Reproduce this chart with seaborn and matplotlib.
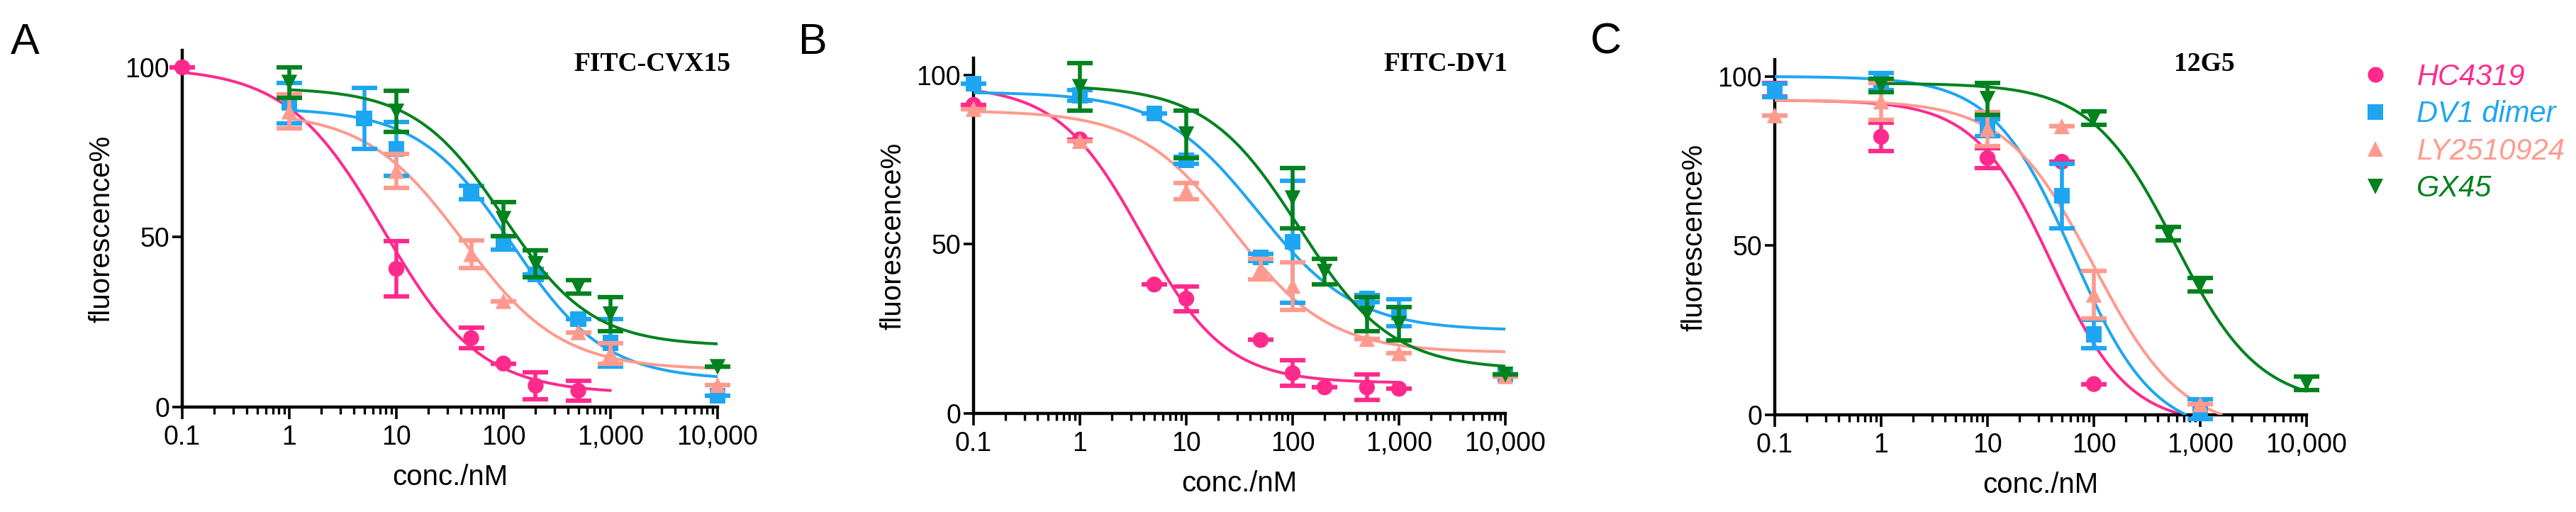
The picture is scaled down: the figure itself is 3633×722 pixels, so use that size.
import numpy as np
import matplotlib
matplotlib.use('Agg')
import matplotlib.pyplot as plt
import matplotlib.ticker as mticker
from matplotlib.lines import Line2D
import seaborn as sns

# Compounds / styles
compounds = ['HC4319', 'DV1 dimer', 'LY2510924', 'GX45']
colors = ['#FF2A8C', '#1EA6F2', '#FF9A8E', '#00821E']
markers = ['o', 's', '^', 'v']
draw_order = [2, 0, 1, 3]  # salmon at bottom, green on top

# Panel A: FITC-CVX15 (conc nM, mean %, error)
a_conc = [[0.1, 10, 50, 100, 200, 500],
          [1, 5, 10, 50, 100, 200, 500, 1000, 10000],
          [1, 10, 50, 100, 500, 1000, 10000],
          [1, 10, 100, 200, 500, 1000, 10000]]
a_mean = [[100, 40.7, 20.3, 12.8, 6.3, 4.8],
          [89.5, 85, 76, 63.2, 48.4, 39, 25.9, 18.9, 3.4],
          [87, 69.5, 45, 31.2, 22, 15.7, 6.5],
          [95.5, 87, 55.4, 42.1, 35.4, 27.3, 11.8]]
a_err = [[0, 8.2, 3, 0, 4, 3],
         [6, 9, 8, 2, 2, 0, 0, 7, 0],
         [5, 5, 4, 0, 0, 3, 0],
         [4.5, 6, 5, 4, 2, 5, 0]]
# fitted curves: top, bottom, IC50, hill, x start, x end
a_fit = [[100, 4, 7.6, 0.96, 0.1, 1000],
         [88, 8, 120, 1.0, 1, 10000],
         [87, 11, 42, 0.95, 1, 10000],
         [94, 18, 100, 1.05, 1, 10000]]

# Panel B: FITC-DV1
b_conc = [[0.1, 1, 5, 10, 50, 100, 200, 500, 1000],
          [0.1, 1, 5, 10, 50, 100, 500, 1000, 10000],
          [0.1, 1, 10, 50, 100, 500, 1000, 10000],
          [1, 10, 100, 200, 500, 1000, 10000]]
b_mean = [[91.2, 81, 38.1, 33.9, 21.7, 11.9, 7.7, 7.7, 7.3],
          [97.5, 94, 88.7, 74.8, 46.1, 50.7, 33.9, 29.7, 11.5],
          [90, 80.5, 65.7, 42.6, 37.7, 22, 17.8, 11],
          [96.5, 82.5, 63.6, 41.9, 29.4, 26.5, 11.5]]
b_err = [[0, 0, 0, 3.7, 0, 3.8, 0, 3.8, 0],
         [0, 1.5, 0, 1, 1, 18, 1, 4, 0],
         [0, 0, 2.5, 3, 7, 0, 0, 0],
         [7, 7, 9, 3.8, 5, 5, 0]]
b_fit = [[97, 9, 3.8, 1.1, 0.1, 1000],
         [95, 24.5, 47, 0.95, 0.1, 10000],
         [89.5, 18, 28, 0.97, 0.1, 10000],
         [97, 13, 115, 1.0, 1, 10000]]

# Panel C: 12G5
c_conc = [[0.1, 1, 10, 50, 100],
          [0.1, 1, 10, 50, 100, 1000],
          [0.1, 1, 10, 50, 100, 1000],
          [1, 10, 100, 500, 1000, 10000]]
c_mean = [[96, 82.2, 75.9, 74.8, 9.1],
          [95.8, 98.5, 84.9, 64.7, 23.8, 1.7],
          [88.5, 92.6, 84.5, 85.3, 35.5, 3.1],
          [97.3, 93.4, 87.7, 53.5, 38.5, 9.4]]
c_err = [[2, 4.2, 3, 0, 0],
         [2, 2.5, 2.5, 9.5, 4.2, 3],
         [0, 5.5, 5, 0, 7, 0],
         [2, 4.7, 2, 2, 2, 2]]
c_fit = [[93, -3, 40, 1.2, 0.1, 10000],
         [100, -6, 64, 1.15, 0.1, 10000],
         [93, -5, 100, 1.05, 0.1, 10000],
         [98, 3, 580, 1.1, 1, 10000]]

panel_titles = ['FITC-CVX15', 'FITC-DV1', '12G5']
panel_letters = ['A', 'B', 'C']
x_ticks = [0.1, 1, 10, 100, 1000, 10000]
x_ticklabels = ['0.1', '1', '10', '100', '1,000', '10,000']
y_ticks = [0, 50, 100]

sns.set_theme(style='ticks')
plt.rcParams['font.family'] = ['Liberation Sans', 'DejaVu Sans']

W, H = 3633, 722
fig = plt.figure(figsize=(W / 100, H / 100), dpi=100)

# axes boxes in pixels: left, right, y of 0, y of top(105)
boxes = [(257, 1012, 574, 71), (1373, 2123, 583, 82), (2503, 3253, 585, 84)]
panels = [(a_conc, a_mean, a_err, a_fit),
          (b_conc, b_mean, b_err, b_fit),
          (c_conc, c_mean, c_err, c_fit)]
title_pos = [(1.025, 0.962, 'right'), (1.004, 0.984, 'right'), (0.808, 0.988, 'center')]
letter_x = [15, 1126, 2243]


def four_pl(x, top, bottom, ic50, hill):
    return bottom + (top - bottom) / (1 + (x / ic50) ** hill)


for p, (conc, mean, err, fit) in enumerate(panels):
    l, r, y0, yt = boxes[p]
    ax = fig.add_axes([l / W, (H - y0) / H, (r - l) / W, (y0 - yt) / H])
    ax.set_xscale('log')

    for i in draw_order:
        top, bottom, ic50, hill, xs, xe = fit[i]
        xx = np.logspace(np.log10(xs), np.log10(xe), 400)
        yy = four_pl(xx, top, bottom, ic50, hill)
        keep = yy >= 0
        sns.lineplot(x=xx[keep], y=yy[keep], ax=ax, color=colors[i], lw=2.9,
                     estimator=None, sort=False, zorder=2 + i)
        ax.errorbar(conc[i], mean[i], yerr=err[i], fmt='none', ecolor=colors[i],
                    elinewidth=4, capsize=13, capthick=4.5, zorder=3 + i,
                    clip_on=False)
        sns.scatterplot(x=conc[i], y=mean[i], ax=ax, marker=markers[i],
                        s=260, color=colors[i], edgecolor='none', linewidth=0,
                        zorder=3 + i, clip_on=False)

    ax.set_xlim(0.1, 10000)
    ax.set_ylim(0, 105)
    ax.xaxis.set_major_locator(mticker.FixedLocator(x_ticks))
    ax.xaxis.set_major_formatter(mticker.FixedFormatter(x_ticklabels))
    ax.xaxis.set_minor_locator(mticker.LogLocator(base=10, subs=np.arange(2, 10), numticks=20))
    ax.xaxis.set_minor_formatter(mticker.NullFormatter())
    ax.set_yticks(y_ticks)
    ax.set_yticklabels([str(t) for t in y_ticks])
    sns.despine(ax=ax)
    for s in ['left', 'bottom']:
        ax.spines[s].set_linewidth(3.2)
        ax.spines[s].set_color('black')
    ax.tick_params(axis='x', which='major', length=12, width=2.6, pad=6,
                   labelsize=27, colors='black')
    ax.tick_params(axis='x', which='minor', length=7, width=2.4, colors='black')
    ax.tick_params(axis='y', which='major', length=10, width=2.6, pad=3,
                   labelsize=27, colors='black')
    ax.set_xlabel('conc./nM', fontsize=29, labelpad=14, color='black')
    ax.set_ylabel('fluorescence%', fontsize=29, labelpad=10, color='black')
    ax.grid(False)

    tx, ty, ha = title_pos[p]
    ax.text(tx, ty, panel_titles[p], transform=ax.transAxes, ha=ha, va='center',
            fontsize=27, fontweight='bold', family=['Liberation Serif', 'DejaVu Serif'],
            color='black')
    fig.text(letter_x[p] / W, (H - 32) / H, panel_letters[p], ha='left', va='top',
             fontsize=44, color='black')

handles = [Line2D([], [], ls='none', marker=markers[i], color=colors[i],
                  markersize=16, markeredgewidth=0) for i in range(4)]
leg = fig.legend(handles=handles, labels=compounds, loc='upper left',
                 bbox_to_anchor=(0.9164, 0.877), frameon=False, borderpad=0,
                 borderaxespad=0, handlelength=1.0, handletextpad=0.9,
                 labelspacing=0.3, prop={'size': 30, 'style': 'italic'})
for txt, c in zip(leg.get_texts(), colors):
    txt.set_color(c)

fig.savefig('out.png', dpi=100)
